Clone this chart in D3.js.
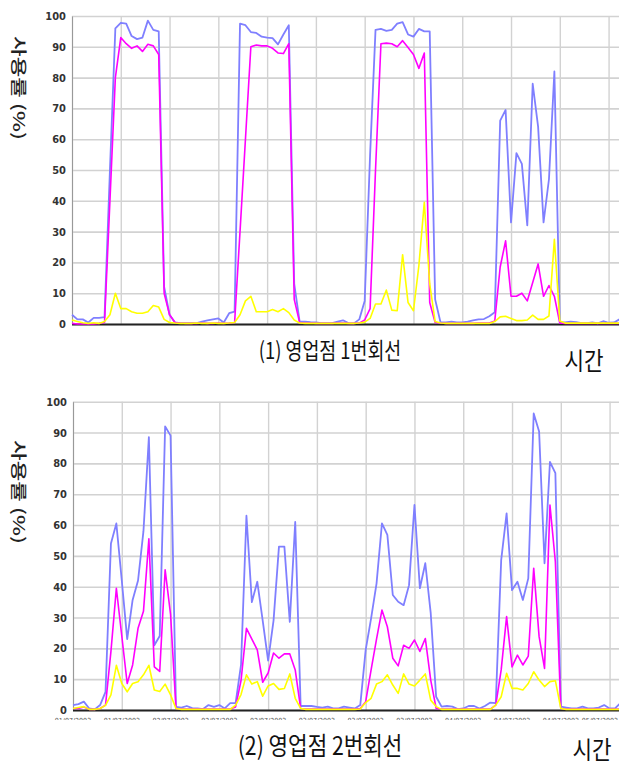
<!DOCTYPE html>
<html>
<head>
<meta charset="utf-8">
<script src="https://cdn.jsdelivr.net/npm/d3@7/dist/d3.min.js"></script>
<style>
  body { margin: 0; background: #fff; }
  svg { display: block; }
</style>
</head>
<body>
<svg id="chart" width="619" height="767"></svg>
<script>
// 시간 인덱스별 사용률 (%) - 그림에서 읽은 값
const topBlue = [3, 1.5, 1.5, 0.5, 2, 2, 2.2, 50, 96, 97.8, 97.5, 93.5, 92.5, 93, 98.5, 95.5, 95, 12, 3, 0.5,
  0.3, 0.3, 0.3, 0.3, 0.8, 1.2, 1.5, 1.8, 0.5, 3.5, 4, 97.5, 97, 94.8, 94.5, 93.3, 93, 92.8, 90.8, 94,
  97, 13, 0.8, 0.8, 0.6, 0.5, 0.3, 0.3, 0.3, 0.8, 1.2, 0.3, 0.2, 1.5, 7.5, 55, 95.5, 95.8, 95.2, 95.5,
  97.5, 98, 94, 93.3, 95.8, 95, 95, 8, 0.5, 0.5, 0.8, 0.5, 0.5, 0.8, 1.2, 1.5, 1.6, 2.5, 3.8, 66,
  69.5, 33, 55.5, 52, 32, 78, 64, 33, 47, 82, 0.5, 0.5, 0.8, 0.6, 0.3, 0.3, 0.5, 0.2, 0.9, 0.4,
  0.5, 1.5];
const topMagenta = [0.2, 0, 0, 0, 0, 0.2, 0.5, 40, 80, 93, 91, 89.5, 90.3, 88.5, 90.8, 90.3, 87.5, 10, 3, 0.5,
  0.3, 0.2, 0.2, 0.2, 0.3, 0.2, 0.2, 0.3, 0.2, 0.3, 0.5, 30, 60, 90, 90.6, 90.3, 90.3, 89.5, 88, 87.8,
  91, 8, 0.5, 0.3, 0.3, 0.2, 0.2, 0.2, 0.2, 0.3, 0.3, 0.2, 0.2, 0.3, 1.3, 5, 50, 91, 91.2, 91,
  90, 92, 89.8, 87.5, 83, 88, 7, 0.5, 0.3, 0.2, 0.2, 0.2, 0.2, 0.2, 0.2, 0.3, 0.3, 0.3, 1, 18.5,
  27, 9, 9, 10, 7.5, 13.5, 19.5, 9, 12.5, 9, 0.3, 0.2, 0.2, 0.2, 0.2, 0.2, 0.2, 0.2, 0.2, 0.2,
  0.2, 0.2];
const topYellow = [1.3, 0.8, 0.4, 0.2, 0.4, 0.2, 0.8, 3, 10, 5, 5, 4, 3.5, 3.5, 4, 6, 5.5, 1.5, 0.5, 0.3,
  0.2, 0.2, 0.2, 0.3, 0.2, 0.2, 0.3, 0.2, 0.2, 0.3, 0.5, 3, 7.5, 9, 4, 4, 4, 4.7, 4, 5,
  3.7, 1.3, 0.3, 0.2, 0.2, 0.2, 0.2, 0.2, 0.2, 0.2, 0.2, 0.2, 0.2, 0.3, 0.6, 1.8, 6.5, 6.5, 11, 4.5,
  4.3, 22.5, 7, 4.3, 19, 39.5, 13, 0.8, 0.3, 0.2, 0.2, 0.2, 0.2, 0.2, 0.2, 0.2, 0.2, 0.2, 0.8, 2.3,
  2.5, 1.8, 1.1, 1.1, 1.3, 2.9, 1.5, 1.5, 2.6, 27.5, 1, 0.3, 0.3, 0.3, 0.3, 0.3, 0.3, 0.3, 0.3, 0.3,
  0.3, 0.3];

const botBlue = [1.6, 1.9, 2.7, 0.5, 0.2, 1.6, 5.9, 54, 60.5, 42, 23, 35.7, 42, 58, 88.5, 21, 24, 92, 89, 1,
  0.8, 1.3, 0.6, 0.5, 0.3, 1.6, 1, 1.6, 0.5, 2.2, 2.2, 14.6, 63, 35, 41.6, 29, 16, 29, 53, 53,
  28.6, 61, 1.3, 1.3, 1.3, 1, 0.8, 1.1, 0.5, 0.5, 1.1, 0.8, 0.5, 1.6, 19.5, 29.7, 41, 60.5, 56.8, 37.3,
  35.1, 34, 40.5, 66.5, 39.5, 47.6, 31.4, 4.3, 1.1, 1.3, 1.1, 0.3, 0.5, 1.3, 1.3, 0.5, 1.3, 2.4, 2.2, 48.6,
  63.8, 38.9, 41.6, 35.7, 42.7, 96.2, 90.3, 47.6, 80.5, 76.8, 1.1, 0.8, 0.5, 0.5, 1.1, 0.5, 0.5, 0.8, 1.6, 0.5,
  0.5, 2.2];
const botMagenta = [0.5, 0.5, 1, 0.2, 0.2, 0.5, 1.6, 19, 39.5, 24, 8.6, 14.6, 26.5, 32, 55.5, 14, 12.5, 45.5, 31, 0.5,
  0.3, 0.3, 0.3, 0.3, 0.3, 0.3, 0.3, 0.3, 0.3, 0.3, 1, 9.5, 26.5, 23, 19.5, 9, 12, 18.5, 16.8, 18.2,
  18.2, 13, 0.5, 0.3, 0.3, 0.3, 0.3, 0.3, 0.3, 0.3, 0.3, 0.3, 0.3, 0.5, 2.7, 13, 23, 32.4, 27, 16.8,
  14.3, 21, 20, 22.7, 19, 23.2, 9.7, 0.5, 0.3, 0.3, 0.3, 0.3, 0.3, 0.3, 0.3, 0.3, 0.3, 0.3, 1.6, 13,
  30.3, 14, 17.8, 14.6, 17.5, 46, 23.8, 13.5, 66.5, 48, 0.5, 0.3, 0.3, 0.3, 0.3, 0.3, 0.3, 0.3, 0.3, 0.3,
  0.3, 0.3];
const botYellow = [0.5, 0.8, 1.1, 0.2, 0.2, 0.5, 1.5, 4.9, 14.5, 8.6, 5.9, 8.6, 9.2, 11.4, 14.5, 6.5, 6, 8.4, 4.9, 0.5,
  0.2, 0.2, 0.2, 0.2, 0.2, 0.2, 0.2, 0.2, 0.2, 0.2, 1.6, 5, 11.4, 8.4, 9.2, 4.5, 7.8, 8.6, 6.7, 7,
  11.7, 3.8, 0.5, 0.2, 0.2, 0.2, 0.2, 0.2, 0.2, 0.2, 0.2, 0.2, 0.2, 0.3, 2.4, 3.8, 8.4, 9.2, 11.4, 8.1,
  5.4, 11.7, 8.4, 7.8, 9.7, 11.7, 3.2, 1.1, 0.2, 0.2, 0.2, 0.2, 0.2, 0.2, 0.2, 0.2, 0.2, 0.2, 1.6, 4.3,
  11.9, 7, 7, 6.5, 8.6, 12.4, 9.7, 7.6, 9.2, 9.5, 0.5, 0.2, 0.2, 0.2, 0.2, 0.2, 0.2, 0.2, 0.2, 0.2,
  0.2, 0.2];

const yTicks = [0, 10, 20, 30, 40, 50, 60, 70, 80, 90, 100];
const gridIdx = [0, 9, 18, 27, 36, 45, 54, 63, 72, 81, 90, 99];
const dateLabels = ["01/07/2003", "01/07/2003", "02/07/2003", "02/07/2003", "02/07/2003", "03/07/2003",
  "03/07/2003", "03/07/2003", "04/07/2003", "04/07/2003", "04/07/2003", "05/07/2003"];
const panelTitles = ["(1) 영업점 1번회선", "(2) 영업점 2번회선"];
const yTitle = "사용률 (%)";
const xTitle = "시간";

const svg = d3.select("#chart");
const numFont = "'Liberation Sans Narrow', 'DejaVu Sans Condensed', Arial, sans-serif";
const krFont = "'Noto Sans CJK KR', sans-serif";

const panels = [
  { left: 72, top: 16, bottom: 324, data: [topBlue, topMagenta, topYellow], dates: false,
    title: panelTitles[0], titleSize: 23, titleScale: 0.8, titleX: 330, titleY: 359,
    timeX: 584, timeY: 370, yTitleY: 88 },
  { left: 73, top: 401.7, bottom: 710, data: [botBlue, botMagenta, botYellow], dates: true,
    title: panelTitles[1], titleSize: 25, titleScale: 0.85, titleX: 320, titleY: 755,
    timeX: 592, timeY: 759, yTitleY: 492 }
];
const colors = ["#7f7fff", "#ff00ff", "#ffff00"];

panels.forEach((p, k) => {
  const x = d3.scaleLinear().domain([0, 101]).range([p.left, p.left + 5.42 * 101]);
  const y = d3.scaleLinear().domain([0, 100]).range([p.bottom, p.top]);
  const g = svg.append("g");

  // 가로 격자
  g.append("g")
    .attr("transform", `translate(${p.left},0)`)
    .call(d3.axisLeft(y).tickValues(yTicks).tickSize(-(619 - p.left)).tickFormat(""))
    .call(a => a.select(".domain").remove())
    .call(a => a.selectAll("line").attr("stroke", "#d2d2d2").attr("stroke-width", 1.6));

  // 세로 격자
  g.append("g")
    .attr("transform", `translate(0,${p.bottom})`)
    .call(d3.axisBottom(x).tickValues(gridIdx).tickSize(-(p.bottom - p.top)).tickFormat(""))
    .call(a => a.select(".domain").remove())
    .call(a => a.selectAll("line").attr("stroke", "#d2d2d2").attr("stroke-width", 1.4));

  // y축 눈금
  g.append("g")
    .attr("transform", `translate(${p.left},0)`)
    .call(d3.axisLeft(y).tickValues(yTicks).tickSize(0).tickPadding(6))
    .call(a => a.select(".domain").attr("stroke", "#999").attr("stroke-width", 1))
    .call(a => a.selectAll("text")
      .attr("font-family", numFont).attr("font-weight", "bold")
      .attr("font-size", 11).attr("fill", "#333"));

  // 0 기준선
  g.append("line")
    .attr("x1", p.left).attr("x2", 619)
    .attr("y1", y(0) + 0.5).attr("y2", y(0) + 0.5)
    .attr("stroke", "#222").attr("stroke-width", 2);

  const line = d3.line().x((d, i) => x(i)).y(d => y(d));
  p.data.forEach((s, j) => {
    g.append("path")
      .datum(s)
      .attr("fill", "none")
      .attr("stroke", colors[j])
      .attr("stroke-width", j === 0 ? 1.8 : 1.6)
      .attr("stroke-linejoin", "round")
      .attr("d", line);
  });

  // 잘린 날짜 라벨 (윗부분만 보임)
  if (p.dates) {
    const last = gridIdx.length - 1;
    svg.append("clipPath").attr("id", "dateClip")
      .append("rect").attr("x", 0).attr("y", 717).attr("width", 619).attr("height", 3);
    g.append("g")
      .attr("clip-path", "url(#dateClip)")
      .selectAll("text")
      .data(gridIdx)
      .join("text")
      .attr("x", (d, i) => i === last ? 618 : x(d))
      .attr("y", 722.5)
      .attr("text-anchor", (d, i) => i === last ? "end" : "middle")
      .attr("font-family", numFont)
      .attr("font-size", 7)
      .attr("fill", "#555")
      .text((d, i) => dateLabels[i]);
  }

  // 축 제목
  g.append("text")
    .attr("transform", `translate(13,${p.yTitleY}) rotate(90) scale(1.4,1)`)
    .attr("text-anchor", "middle")
    .attr("font-family", krFont)
    .attr("font-size", 16)
    .attr("font-weight", 500)
    .attr("fill", "#222")
    .text(yTitle);

  g.append("text")
    .attr("transform", `translate(${p.titleX},${p.titleY}) scale(${p.titleScale},1)`)
    .attr("text-anchor", "middle")
    .attr("font-family", krFont)
    .attr("font-size", p.titleSize)
    .attr("fill", "#111")
    .text(p.title);

  g.append("text")
    .attr("transform", `translate(${p.timeX},${p.timeY}) scale(0.85,1)`)
    .attr("text-anchor", "middle")
    .attr("font-family", krFont)
    .attr("font-size", 25)
    .attr("fill", "#111")
    .text(xTitle);
});
</script>
</body>
</html>
